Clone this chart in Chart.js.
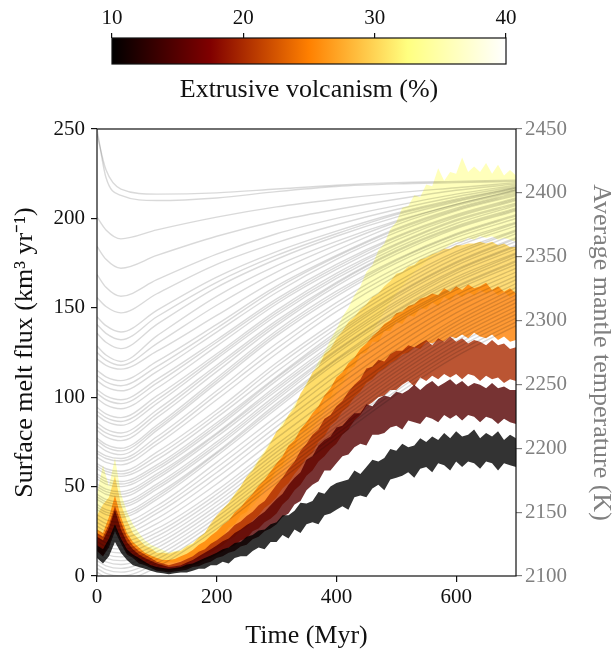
<!DOCTYPE html>
<html>
<head>
<meta charset="utf-8">
<script src="https://cdn.jsdelivr.net/npm/chart.js@4.4.1/dist/chart.umd.min.js"></script>
<style>
  html, body { margin: 0; padding: 0; background: #fff; overflow: hidden; }
  #wrap { position: relative; width: 612px; height: 652px; }
  canvas { position: absolute; left: 0; top: 0; }
</style>
</head>
<body>
<div id="wrap">
  <canvas id="main" width="612" height="652"></canvas>
  <canvas id="cbar" width="612" height="110"></canvas>
</div>
<script>
// ---- Surface melt flux envelopes (km^3/yr), one pair per extrusive fraction ----
const timeMyr = [
  0, 10, 20, 30, 40, 50, 60, 70, 80, 90,
  100, 110, 120, 130, 140, 150, 160, 170, 180, 190,
  200, 210, 220, 230, 240, 250, 260, 270, 280, 290,
  300, 310, 320, 330, 340, 350, 360, 370, 380, 390,
  400, 410, 420, 430, 440, 450, 460, 470, 480, 490,
  500, 510, 520, 530, 540, 550, 560, 570, 580, 590,
  600, 610, 620, 630, 640, 650, 660, 670, 680, 690,
  700
];

const flux10Low = [
  10, 7, 11, 19, 13, 9, 6, 5, 4, 3,
  2, 1.5, 1, 1.5, 2, 2, 3, 4, 4, 6,
  6, 8, 7, 10, 11, 11, 14, 16, 15, 19,
  19, 23, 21, 26, 24, 29, 30, 29, 34, 35,
  37, 39, 37, 44, 45, 44, 49, 51, 48, 54,
  55, 56, 58, 55, 60, 61, 58, 63, 62, 59,
  64, 61, 64, 63, 60, 64, 63, 59, 63, 62,
  61
];
const flux10High = [
  17, 15, 21, 29, 21, 15, 12, 10, 8, 6,
  5, 4.5, 4, 4.5, 5, 6.5, 7, 8.5, 10, 11.5,
  13, 15, 16, 18.5, 19, 22, 23, 25.5, 26, 29,
  30, 34, 34, 36.5, 41, 40.5, 42, 47, 46, 50,
  52, 53, 54, 59, 57, 61, 65, 64, 66, 71,
  70, 74, 72, 73, 77, 75, 78, 76, 80, 77,
  81, 78, 79, 82, 77, 80, 78, 81, 76, 79,
  77
];

const flux15Low = [
  14, 11, 16, 25, 18, 12, 10, 7, 6, 4.5,
  3, 2.5, 2, 2.5, 3, 3.5, 5, 5.5, 7, 8,
  10, 11, 13, 14, 16.5, 17.5, 20.5, 22, 25, 26.5,
  29, 33, 35, 40, 42, 48, 51, 53, 59, 59,
  63, 67, 68, 72, 74, 73, 79, 79, 80, 83,
  84, 82, 87, 86, 85, 89, 88, 86, 90, 88,
  90, 87, 90, 89, 86, 89, 88, 85, 88, 86,
  85
];
const flux15High = [
  22, 20, 27, 37, 26, 19, 15, 12, 10, 8.5,
  7, 6, 5, 5.5, 6, 7.5, 9, 11, 13, 15,
  17, 19.5, 21, 24, 26, 28.5, 30.5, 33.5, 36, 39.5,
  43, 46, 51, 55, 58, 65, 67, 73, 76, 78,
  83, 84, 88, 91, 91, 96, 95, 99, 101, 100,
  103, 102, 104, 107, 104, 107, 109, 106, 108, 110,
  107, 109, 106, 108, 107, 105, 108, 105, 106, 104,
  104
];

const flux20Low = [
  14, 11, 18, 27, 20, 13, 11, 8.5, 7, 5.5,
  4, 3.5, 3, 3.5, 4, 4.5, 6, 7, 9, 10,
  12, 13.5, 16, 17, 20, 21, 25, 26.5, 30, 32,
  35, 40, 43, 48, 51, 56, 59, 64, 67, 71,
  74, 79, 82, 87, 90, 95, 97, 100, 101, 104,
  104, 107, 109, 106, 111, 109, 112, 110, 113, 111,
  113, 110, 113, 112, 109, 112, 110, 111, 108, 110,
  109
];
const flux20High = [
  24, 22, 29, 39, 30, 22, 17, 14, 12, 10,
  8, 7, 6, 7, 8, 9.5, 11, 13.5, 15, 18,
  20, 22.5, 25, 28.5, 30.5, 33.5, 36, 39.5, 42, 46.5,
  51, 55, 60, 64, 70, 74, 79, 82, 88, 90,
  95, 98, 103, 107, 110, 116, 117, 121, 120, 124,
  126, 126, 129, 128, 130, 132, 129, 133, 131, 134,
  131, 133, 130, 132, 131, 129, 132, 129, 130, 127,
  128
];

const flux25Low = [
  15, 12, 20, 29, 22, 15, 12, 9.5, 8, 6.5,
  5.5, 5, 5, 5.5, 6, 6.5, 8.5, 9.5, 12, 13,
  15, 17, 20, 22, 25.5, 27, 31, 34, 38, 40.5,
  44, 49, 52, 57, 61, 66, 69, 75, 78, 84,
  87, 92, 95, 100, 103, 108, 110, 114, 116, 119,
  121, 124, 125, 128, 127, 131, 130, 132, 131, 134,
  133, 135, 133, 136, 134, 133, 135, 132, 134, 131,
  132
];
const flux25High = [
  26, 24, 33, 45, 33, 24, 19, 16, 13, 11.5,
  10, 9, 9, 9.5, 11, 12.5, 14.5, 17.5, 19.5, 22.5,
  25, 28.5, 31, 35.5, 38.5, 42.5, 46, 50.5, 54, 58.5,
  63, 67, 73, 76, 82, 86, 91, 95, 101, 105,
  111, 114, 119, 122, 127, 130, 134, 137, 141, 143,
  147, 148, 151, 152, 155, 156, 158, 157, 161, 159,
  162, 160, 163, 161, 162, 164, 160, 162, 159, 161,
  158
];

const flux30Low = [
  18, 15, 22, 29, 24, 17, 14, 11.5, 10, 8.5,
  8, 7, 7.5, 7.5, 8.5, 9, 11, 12, 15, 16.5,
  20, 22, 27, 29, 34, 36, 42, 44, 51, 53,
  60, 62, 70, 72, 80, 82, 90, 91, 99, 100,
  108, 109, 116, 117, 124, 125, 131, 131, 137, 137,
  142, 141, 146, 145, 150, 149, 153, 151, 156, 154,
  158, 156, 159, 157, 160, 158, 160, 157, 159, 156,
  158
];
const flux30High = [
  34, 40, 44, 56, 40, 31, 24, 20.5, 17, 15.5,
  13, 13, 12.5, 13.5, 14, 16.5, 18, 21.5, 24, 29.5,
  34, 37.5, 41, 45.5, 50, 55.5, 59, 64.5, 69, 74.5,
  81, 84, 90, 94, 102, 107, 114, 117, 124, 127,
  133, 137, 142, 145, 149, 152, 156, 158, 162, 165,
  169, 170, 173, 174, 177, 178, 180, 181, 183, 183,
  185, 185, 186, 186, 187, 186, 187, 185, 186, 184,
  184
];

const flux35Low = [
  22, 26, 27, 34, 28, 22, 18, 15, 12, 10.5,
  9.5, 9, 8.5, 8.5, 9, 10, 11, 12.5, 14, 17,
  20, 23, 26, 29, 32, 35, 39, 43, 48, 52,
  56, 60, 64, 68, 72, 77, 82, 87, 92, 97,
  102, 107, 112, 118, 124, 130, 136, 142, 148, 153,
  158, 162, 166, 170, 173, 176, 179, 181, 183, 185,
  187, 187, 189, 188, 190, 189, 190, 188, 189, 188,
  187
];
const flux35High = [
  46, 62, 50, 66, 46, 36, 29, 24, 20, 17.5,
  16, 14.5, 13, 14, 14.5, 17, 18.5, 21.5, 24, 28.5,
  33, 37.5, 41, 46, 50, 55.5, 60, 65.5, 70, 75.5,
  80, 86, 90, 96, 101, 108, 113, 120, 125, 132,
  138, 145, 150, 157, 162, 170, 174, 182, 186, 194,
  198, 206, 207, 213, 212, 219, 218, 228, 221, 226,
  225, 234, 226, 229, 226, 231, 225, 230, 224, 227,
  224
];

// ---- Average mantle temperature runs (K) ----
const mantleTimeMyr = [0, 15, 40, 100, 200, 300, 400, 500, 600, 700];
const mantleTempK = [
  [2450, 2412, 2398, 2394, 2396, 2401, 2405, 2407, 2408, 2409],
  [2446, 2418, 2403, 2399, 2400, 2403, 2406, 2408, 2409, 2410],
  [2381, 2371, 2364, 2371, 2381, 2389, 2395, 2400, 2404, 2408],
  [2358, 2348, 2341, 2351, 2366, 2378, 2387, 2395, 2402, 2407],
  [2336, 2326, 2319, 2332, 2352, 2368, 2380, 2390, 2399, 2406],
  [2318, 2311, 2306, 2321, 2344, 2361, 2375, 2387, 2397, 2405],
  [2303, 2296, 2291, 2308, 2334, 2354, 2370, 2384, 2395, 2404],
  [2297, 2290, 2285, 2303, 2330, 2351, 2368, 2383, 2394, 2404],
  [2290, 2283, 2278, 2297, 2326, 2348, 2366, 2381, 2393, 2403],
  [2280, 2273, 2268, 2288, 2319, 2343, 2362, 2378, 2391, 2402],
  [2275, 2269, 2265, 2282, 2312, 2338, 2359, 2377, 2391, 2402],
  [2270, 2265, 2262, 2276, 2304, 2332, 2355, 2375, 2390, 2401],
  [2261, 2256, 2253, 2268, 2297, 2327, 2351, 2372, 2388, 2400],
  [2257, 2252, 2249, 2264, 2294, 2325, 2350, 2371, 2387, 2399],
  [2253, 2248, 2245, 2260, 2291, 2322, 2348, 2369, 2386, 2398],
  [2246, 2241, 2238, 2254, 2285, 2317, 2344, 2366, 2383, 2396],
  [2243, 2238, 2235, 2251, 2283, 2315, 2342, 2365, 2382, 2395],
  [2239, 2234, 2231, 2247, 2280, 2313, 2340, 2363, 2381, 2394],
  [2232, 2227, 2224, 2241, 2274, 2308, 2337, 2360, 2379, 2392],
  [2229, 2224, 2221, 2238, 2272, 2306, 2335, 2359, 2378, 2391],
  [2226, 2221, 2218, 2235, 2270, 2304, 2333, 2357, 2376, 2390],
  [2220, 2215, 2212, 2230, 2265, 2300, 2330, 2355, 2374, 2388],
  [2217, 2212, 2209, 2227, 2263, 2298, 2329, 2354, 2373, 2387],
  [2214, 2209, 2206, 2224, 2260, 2296, 2327, 2352, 2372, 2386],
  [2208, 2203, 2200, 2218, 2255, 2292, 2323, 2348, 2368, 2383],
  [2206, 2201, 2198, 2216, 2253, 2290, 2321, 2347, 2367, 2382],
  [2203, 2198, 2195, 2214, 2251, 2288, 2319, 2345, 2365, 2380],
  [2198, 2194, 2192, 2209, 2245, 2282, 2314, 2341, 2362, 2377],
  [2196, 2192, 2190, 2206, 2242, 2278, 2311, 2338, 2360, 2376],
  [2193, 2189, 2187, 2203, 2238, 2274, 2307, 2335, 2358, 2374],
  [2188, 2184, 2182, 2197, 2230, 2267, 2300, 2330, 2354, 2371],
  [2186, 2182, 2180, 2194, 2227, 2264, 2297, 2327, 2352, 2370],
  [2184, 2180, 2178, 2191, 2224, 2260, 2294, 2324, 2349, 2368],
  [2180, 2176, 2174, 2187, 2220, 2256, 2291, 2321, 2346, 2365],
  [2178, 2174, 2172, 2185, 2218, 2255, 2289, 2320, 2345, 2364],
  [2176, 2172, 2170, 2183, 2216, 2253, 2287, 2318, 2343, 2362],
  [2172, 2168, 2166, 2180, 2212, 2249, 2284, 2315, 2340, 2359],
  [2170, 2166, 2164, 2178, 2211, 2247, 2282, 2313, 2339, 2358],
  [2168, 2164, 2162, 2176, 2209, 2245, 2280, 2311, 2337, 2356],
  [2164, 2160, 2158, 2172, 2205, 2242, 2277, 2308, 2334, 2353],
  [2162, 2158, 2156, 2170, 2203, 2240, 2276, 2307, 2332, 2352],
  [2160, 2156, 2154, 2168, 2201, 2238, 2274, 2305, 2330, 2350],
  [2156, 2152, 2150, 2164, 2197, 2235, 2270, 2302, 2327, 2347],
  [2154, 2150, 2148, 2162, 2196, 2233, 2269, 2300, 2326, 2346],
  [2152, 2148, 2146, 2160, 2194, 2231, 2267, 2298, 2324, 2344],
  [2148, 2144, 2142, 2155, 2189, 2225, 2261, 2293, 2320, 2341],
  [2145, 2141, 2139, 2152, 2185, 2221, 2257, 2289, 2317, 2338],
  [2142, 2138, 2136, 2149, 2181, 2217, 2252, 2285, 2313, 2335],
  [2139, 2135, 2133, 2145, 2177, 2213, 2248, 2281, 2310, 2332],
  [2136, 2132, 2130, 2141, 2172, 2208, 2243, 2277, 2306, 2329],
  [2133, 2129, 2127, 2137, 2167, 2203, 2238, 2272, 2302, 2326],
  [2130, 2126, 2124, 2134, 2164, 2200, 2235, 2269, 2299, 2323],
  [2127, 2123, 2121, 2131, 2161, 2197, 2232, 2266, 2296, 2320],
  [2124, 2120, 2118, 2128, 2158, 2194, 2229, 2263, 2293, 2317],
  [2121, 2117, 2115, 2125, 2155, 2191, 2226, 2260, 2290, 2314],
  [2118, 2114, 2112, 2122, 2152, 2188, 2223, 2257, 2287, 2311],
  [2115, 2111, 2109, 2119, 2149, 2185, 2220, 2254, 2284, 2308],
  [2112, 2108, 2106, 2116, 2146, 2182, 2217, 2251, 2281, 2305],
  [2109, 2105, 2103, 2113, 2143, 2179, 2214, 2248, 2278, 2302],
  [2106, 2102, 2100, 2110, 2140, 2176, 2211, 2245, 2275, 2299],
  [2103, 2099, 2097, 2107, 2137, 2173, 2208, 2242, 2272, 2296]
];

// ---- Tick values ----
const timeTicks = [0, 200, 400, 600];
const fluxTicks = [0, 50, 100, 150, 200, 250];
const tempTicks = [2100, 2150, 2200, 2250, 2300, 2350, 2400, 2450];
const pctTicks = [10, 20, 30, 40];

// ---- afmhot colormap ----
const afmhotStops = [
  [0.00, 0, 0, 0],
  [0.25, 128, 0, 0],
  [0.50, 255, 128, 0],
  [0.75, 255, 255, 128],
  [1.00, 255, 255, 255]
];
const pctMin = 10, pctMax = 40;

function afmhot(f) {
  f = Math.max(0, Math.min(1, f));
  for (let i = 1; i < afmhotStops.length; i++) {
    const a = afmhotStops[i - 1], b = afmhotStops[i];
    if (f <= b[0]) {
      const u = (f - a[0]) / (b[0] - a[0]);
      return [1, 2, 3].map(k => Math.round(a[k] + u * (b[k] - a[k])));
    }
  }
  return afmhotStops[afmhotStops.length - 1].slice(1);
}
function pctColor(p, alpha) {
  const c = afmhot((p - pctMin) / (pctMax - pctMin));
  return `rgba(${c[0]},${c[1]},${c[2]},${alpha})`;
}

// lightest drawn first, darkest last
const bandSeries = [
  [35, flux35Low, flux35High],
  [30, flux30Low, flux30High],
  [25, flux25Low, flux25High],
  [20, flux20Low, flux20High],
  [15, flux15Low, flux15High],
  [10, flux10Low, flux10High]
];

const serif = "'Liberation Serif', 'Times New Roman', serif";
const tickFont = { family: serif, size: 21 };
const titleFont = { family: serif, size: 26 };

const datasets = [];
bandSeries.forEach(([pct, lo, hi], i) => {
  const loIndex = datasets.length;
  datasets.push({
    label: pct + '% low',
    yAxisID: 'y',
    data: timeMyr.map((t, k) => ({ x: t, y: lo[k] })),
    borderWidth: 0,
    pointRadius: 0,
    fill: false,
    order: 200 - 2 * i
  });
  datasets.push({
    label: pct + '%',
    yAxisID: 'y',
    data: timeMyr.map((t, k) => ({ x: t, y: hi[k] })),
    borderWidth: 0,
    pointRadius: 0,
    backgroundColor: pctColor(pct, 0.8),
    fill: { target: loIndex },
    order: 199 - 2 * i
  });
});
mantleTempK.forEach((row, i) => {
  datasets.push({
    label: 'run ' + (i + 1),
    yAxisID: 'y2',
    data: mantleTimeMyr.map((t, k) => ({ x: t, y: row[k] })),
    borderColor: 'rgba(0,0,0,0.15)',
    borderWidth: 1.4,
    pointRadius: 0,
    fill: false,
    cubicInterpolationMode: 'monotone',
    order: 0
  });
});

const frame = {
  id: 'frame',
  afterDraw(chart) {
    const { ctx, chartArea: a } = chart;
    ctx.save();
    ctx.strokeStyle = '#111';
    ctx.lineWidth = 1.2;
    ctx.strokeRect(a.left, a.top, a.right - a.left, a.bottom - a.top);
    ctx.restore();
  }
};

const fixTicks = vals => scale => { scale.ticks = vals.map(v => ({ value: v })); };
const plainLabel = v => String(v);

new Chart(document.getElementById('main'), {
  type: 'line',
  data: { datasets },
  options: {
    responsive: false,
    animation: false,
    devicePixelRatio: 1,
    layout: { padding: { top: 129, right: 0, bottom: 0, left: 0 } },
    plugins: { legend: { display: false }, tooltip: { enabled: false } },
    scales: {
      x: {
        type: 'linear', position: 'bottom', min: 0, max: 700,
        afterBuildTicks: fixTicks(timeTicks),
        afterFit: s => { s.height = 76; },
        grid: { drawOnChartArea: false, drawTicks: true, tickLength: 6, color: '#111', lineWidth: 1.2 },
        border: { display: false },
        ticks: { color: '#111', font: tickFont, padding: 3, maxRotation: 0, callback: plainLabel },
        title: { display: true, text: 'Time (Myr)', color: '#111', font: titleFont, padding: { top: 0, bottom: 0 } }
      },
      y: {
        type: 'linear', position: 'left', min: 0, max: 250,
        afterBuildTicks: fixTicks(fluxTicks),
        afterFit: s => { s.width = 97; },
        grid: { drawOnChartArea: false, drawTicks: true, tickLength: 6, color: '#111', lineWidth: 1.2 },
        border: { display: false },
        ticks: { color: '#111', font: tickFont, padding: 6, callback: plainLabel },
        title: { display: true, text: 'Surface melt flux (km³ yr⁻¹)', color: '#111', font: titleFont, padding: { top: 10, bottom: 0 } }
      },
      y2: {
        type: 'linear', position: 'right', axis: 'y', min: 2100, max: 2450,
        afterBuildTicks: fixTicks(tempTicks),
        afterFit: s => { s.width = 96; },
        grid: { drawOnChartArea: false, drawTicks: true, tickLength: 6, color: '#808080', lineWidth: 1.2 },
        border: { display: false },
        ticks: { color: '#808080', font: tickFont, padding: 3, callback: plainLabel },
        title: { display: true, text: 'Average mantle temperature (K)', color: '#808080', font: titleFont, padding: { top: -4, bottom: 0 } }
      }
    }
  },
  plugins: [frame]
});

// ---- colour bar ----
const colorbarFill = {
  id: 'colorbarFill',
  beforeDatasetsDraw(chart) {
    const { ctx, chartArea: a } = chart;
    const g = ctx.createLinearGradient(a.left, 0, a.right, 0);
    afmhotStops.forEach(s => g.addColorStop(s[0], `rgb(${s[1]},${s[2]},${s[3]})`));
    ctx.save();
    ctx.fillStyle = g;
    ctx.fillRect(a.left, a.top, a.right - a.left, a.bottom - a.top);
    ctx.strokeStyle = '#111';
    ctx.lineWidth = 1.2;
    ctx.strokeRect(a.left, a.top, a.right - a.left, a.bottom - a.top);
    ctx.restore();
  }
};

new Chart(document.getElementById('cbar'), {
  type: 'scatter',
  data: { datasets: [] },
  options: {
    responsive: false,
    animation: false,
    devicePixelRatio: 1,
    layout: { padding: { top: 0, right: 106, bottom: 0, left: 112 } },
    plugins: { legend: { display: false }, tooltip: { enabled: false } },
    scales: {
      x: {
        type: 'linear', position: 'top', min: pctMin, max: pctMax,
        afterBuildTicks: fixTicks(pctTicks),
        afterFit: s => { s.height = 38; },
        grid: { drawOnChartArea: false, drawTicks: true, tickLength: 5, color: '#111', lineWidth: 1.2 },
        border: { display: false },
        ticks: { color: '#111', font: tickFont, padding: 2, maxRotation: 0, callback: plainLabel }
      },
      xb: {
        type: 'linear', axis: 'x', position: 'bottom', min: pctMin, max: pctMax,
        afterFit: s => { s.height = 46; },
        grid: { display: false },
        border: { display: false },
        ticks: { display: false },
        title: { display: true, text: 'Extrusive volcanism (%)', color: '#111', font: titleFont, padding: { top: 0, bottom: 4 } }
      },
      y: { display: false, min: 0, max: 1 }
    }
  },
  plugins: [colorbarFill]
});
</script>
</body>
</html>
